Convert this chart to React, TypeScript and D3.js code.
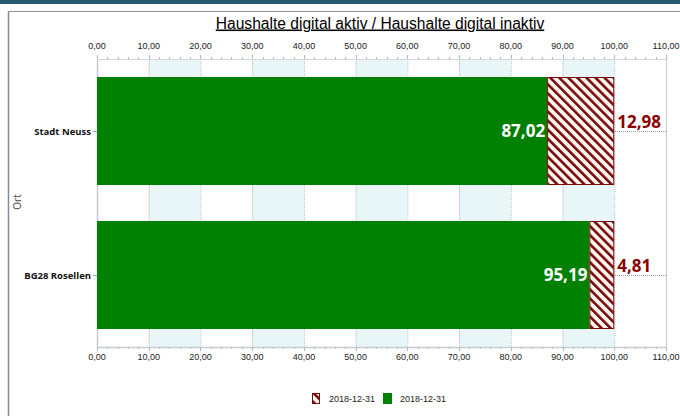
import React from "react";
import * as d3 from "d3";

const categories = ["Stadt Neuss", "BG28 Rosellen"];
const aktiv = [87.02, 95.19];
const inaktiv = [12.98, 4.81];
const xTicks = [0, 10, 20, 30, 40, 50, 60, 70, 80, 90, 100, 110];
const legendLabels = ["2018-12-31", "2018-12-31"];
const title = "Haushalte digital aktiv / Haushalte digital inaktiv";
const yTitle = "Ort";

const W = 680;
const H = 416;
const left = 97;
const right = 666;
const top = 59;
const bottom = 347;

const fmt = (v: number) => v.toFixed(2).replace(".", ",");

export default function App() {
  const x = d3.scaleLinear().domain([0, 110]).range([left, right]);
  const y = d3
    .scaleBand<string>()
    .domain(categories)
    .range([top, bottom])
    .paddingInner(0.25)
    .paddingOuter(0.125);
  const minor = d3.range(0, 111, 2);
  const tickFont = "'Liberation Sans Narrow', 'Liberation Sans', Arial, sans-serif";
  const gridColor = "#b4bcc4";
  const bands = xTicks.filter((t) => t % 20 === 10 && t < 110);

  return (
    <svg
      width={W}
      height={H}
      style={{ position: "absolute", left: 0, top: 0, display: "block", background: "#fff" }}
    >
      <defs>
        <pattern
          id="hatch"
          patternUnits="userSpaceOnUse"
          width={6.4}
          height={6.4}
          patternTransform="rotate(-45)"
        >
          <rect width={6.4} height={6.4} fill="#fff6f2" />
          <rect width={2.6} height={6.4} fill="#7a0a0a" />
        </pattern>
      </defs>
      {/* frame */}
      <rect x={0} y={0} width={W} height={4} fill="#275a6e" />
      <line x1={8} x2={W} y1={11.5} y2={11.5} stroke="#8a98a6" />
      <line x1={8.5} x2={8.5} y1={11} y2={H} stroke="#7f8e9c" strokeWidth={1.5} />

      {/* title */}
      <text
        x={380}
        y={28.5}
        textAnchor="middle"
        fontFamily="'Liberation Sans', Arial, sans-serif"
        fontSize={15.6}
        fill="#000"
        textDecoration="underline"
      >
        {title}
      </text>

      {/* alternating bands */}
      {bands.map((b) => (
        <rect key={b} x={x(b)} y={top} width={x(b + 10) - x(b)} height={bottom - top} fill="#e8f6f8" />
      ))}

      {/* vertical gridlines */}
      {xTicks.slice(1).map((t) => (
        <line
          key={t}
          x1={x(t) + 0.5}
          x2={x(t) + 0.5}
          y1={top}
          y2={bottom}
          stroke={gridColor}
          strokeDasharray="1,1"
        />
      ))}
      {/* horizontal category gridlines */}
      {categories.map((c) => {
        const cy = Math.round((y(c) as number) + y.bandwidth() / 2) + 0.5;
        return (
          <g key={c}>
            <line x1={left} x2={right} y1={cy} y2={cy} stroke="#9aa2aa" strokeDasharray="1,1" />
            <line x1={left - 4} x2={left} y1={cy} y2={cy} stroke="#9aa2aa" />
          </g>
        );
      })}

      {/* plot border */}
      <line x1={left + 0.5} x2={left + 0.5} y1={top} y2={bottom} stroke="#c4ccd4" strokeWidth={1.5} />
      <line x1={left} x2={right} y1={top + 0.5} y2={top + 0.5} stroke="#d0d6dc" />
      <line x1={left} x2={right} y1={bottom + 0.5} y2={bottom + 0.5} stroke="#c4ccd4" strokeWidth={1.5} />
      <line x1={right + 0.5} x2={right + 0.5} y1={top} y2={bottom} stroke="#c4ccd4" />

      {/* minor / major ticks */}
      {minor.map((m) => {
        const major = m % 10 === 0;
        const px = Math.round(x(m)) + 0.5;
        return (
          <g key={m}>
            <line x1={px} x2={px} y1={top - (major ? 4 : 2)} y2={top} stroke="#b0b8c0" />
            <line x1={px} x2={px} y1={bottom} y2={bottom + (major ? 4 : 2)} stroke="#b0b8c0" />
          </g>
        );
      })}

      {/* tick labels */}
      {xTicks.map((t) => (
        <g key={t} fontFamily={tickFont} fontSize={9} fill="#222" textAnchor="middle">
          <text x={x(t)} y={49}>
            {fmt(t)}
          </text>
          <text x={x(t)} y={360}>
            {fmt(t)}
          </text>
        </g>
      ))}

      {/* bars */}
      {categories.map((c, i) => {
        const by = y(c) as number;
        const bh = y.bandwidth();
        const cy = by + bh / 2;
        const x0 = x(0);
        const x1 = x(aktiv[i]);
        const x2 = x(aktiv[i] + inaktiv[i]);
        return (
          <g key={c}>
            <rect x={x0} y={by} width={x1 - x0} height={bh} fill="#008000" />
            <rect
              x={x1 + 0.5}
              y={by + 0.5}
              width={x2 - x1 - 1}
              height={bh - 1}
              fill="url(#hatch)"
              stroke="#7a0a0a"
              strokeWidth={1}
            />
            <text
              x={x1 - 2}
              y={cy + 6}
              textAnchor="end"
              fontFamily="'Open Sans', sans-serif"
              fontWeight="bold"
              fontSize={17}
              fill="#fff"
            >
              {fmt(aktiv[i])}
            </text>
            <text
              x={x2 + 3}
              y={cy - 3}
              textAnchor="start"
              fontFamily="'Open Sans', sans-serif"
              fontWeight="bold"
              fontSize={17}
              fill="#8b0000"
            >
              {fmt(inaktiv[i])}
            </text>
            <text
              x={left - 6}
              y={cy + 3.5}
              textAnchor="end"
              fontFamily="'Open Sans', sans-serif"
              fontWeight="bold"
              fontSize={9.5}
              fill="#111"
            >
              {c}
            </text>
          </g>
        );
      })}

      {/* y axis title */}
      <text
        transform="translate(20.5,202) rotate(-90)"
        textAnchor="middle"
        fontFamily="'Open Sans', sans-serif"
        fontSize={10}
        fill="#444"
      >
        {yTitle}
      </text>

      {/* legend */}
      <g fontFamily={tickFont} fontSize={9} fill="#222">
        <rect x={312.5} y={393.5} width={7} height={10} fill="url(#hatch)" stroke="#7a0a0a" />
        <text x={329} y={402}>
          {legendLabels[0]}
        </text>
        <rect x={383} y={393} width={9} height={11} fill="#008000" />
        <text x={400} y={402}>
          {legendLabels[1]}
        </text>
      </g>
    </svg>
  );
}
